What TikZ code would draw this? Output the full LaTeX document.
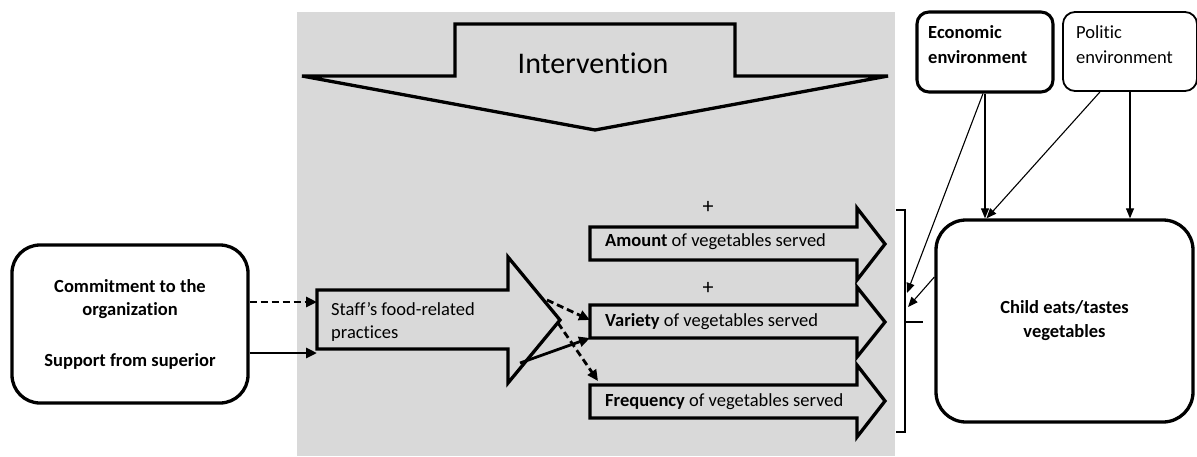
\documentclass[tikz,border=0pt]{standalone}
\usepackage{fontspec}
\setmainfont{Carlito}[RawFeature={-liga}]

\usetikzlibrary{arrows.meta}

\begin{document}
\begin{tikzpicture}[x=1pt,y=-1pt,
  txt/.style={font=\fontsize{18.5}{24}\selectfont, inner sep=0pt},
  bigbox/.style={draw, line width=3.3pt, rounded corners=28pt, fill=white},
  envbox/.style={draw, rounded corners=12pt, fill=white},
  blockarrow/.style={draw, line width=3.3pt, line join=miter, miter limit=20},
  link/.style={line width=2.8pt, -{Triangle[length=11pt,width=10pt]}},
  dashlink/.style={link, dash pattern=on 7pt off 4pt},
  thinlink/.style={line width=1.1pt, -{Triangle[length=10pt,width=8pt]}},
  plus/.style={font=\fontsize{22}{24}\selectfont, inner sep=0pt}
]
\useasboundingbox (0,0) rectangle (1197,456);

% shaded intervention area
\fill[black!15] (297,12) rectangle (895,456);

% intervention block arrow pointing down
\draw[blockarrow, miter limit=3] (302,76) -- (455,76) -- (455,24) -- (735,24) -- (735,76)
  -- (888,76) -- (595,130) -- cycle;
\node[txt, anchor=base, font=\fontsize{30}{34}\selectfont] (interv) at (593,73) {Intervention};

% staff practices block arrow
\draw[blockarrow] (317,290) -- (508,290) -- (508,257) -- (560,320) -- (508,383)
  -- (508,349) -- (317,349) -- cycle;
\node[txt, anchor=base west, align=left] (staff) at (331,315) {Staff’s food-related};
\node[txt, anchor=base west] (staff2) at (331,338) {practices};
\coordinate (staffin1) at (317,302);
\coordinate (staffin2) at (317,353);

% outcome block arrows
\draw[blockarrow] (590,227) -- (857,227) -- (857,208) -- (885,244) -- (857,280)
  -- (857,260) -- (590,260) -- cycle;
\node[txt, anchor=base west] (amount) at (605,246) {\textbf{Amount} of vegetables served};

\draw[blockarrow] (590,305) -- (857,305) -- (857,287) -- (885,322) -- (857,357)
  -- (857,338) -- (590,338) -- cycle;
\node[txt, anchor=base west] (variety) at (605,326) {\textbf{Variety} of vegetables served};

\draw[blockarrow] (590,385) -- (857,385) -- (857,365) -- (885,401) -- (857,437)
  -- (857,418) -- (590,418) -- cycle;
\node[txt, anchor=base west] (frequency) at (605,406) {\textbf{Frequency} of vegetables served};

\node[plus] (plus1) at (708,207) {+};
\node[plus] (plus2) at (708,288) {+};

% organisational factors
\node[bigbox, minimum width=236pt, minimum height=158pt, txt,
      font=\fontsize{18.5}{23}\selectfont\bfseries, align=center] (org) at (130,324)
  {Commitment to the\\organization\\[28pt]Support from superior};

% outcome box
\node[bigbox, rounded corners=30pt, minimum width=257pt, minimum height=202pt, txt,
      font=\fontsize{18.5}{24}\selectfont\bfseries, align=center] (child) at (1064.5,321)
  {Child eats/tastes\\vegetables};

% environment boxes
\node[envbox, line width=3.1pt, minimum width=136pt, minimum height=80pt] (econ) at (985,52) {};
\node[txt, anchor=base west, font=\fontsize{18.5}{24}\selectfont\bfseries] (econt1) at (928,38) {Economic};
\node[txt, anchor=base west, font=\fontsize{18.5}{24}\selectfont\bfseries] (econt2) at (928,63) {environment};

\node[envbox, line width=1.8pt, minimum width=134pt, minimum height=79pt] (pol) at (1130,51.5) {};
\node[txt, anchor=base west] (polt1) at (1076,38) {Politic};
\node[txt, anchor=base west] (polt2) at (1076,63) {environment};

% bracket grouping the three outcomes
\draw[line width=1.6pt] (896,210) -- (905,210) -- (905,432) -- (896,432);
\draw[line width=1.6pt] (905,322) -- (923,322);
\coordinate (brk1) at (907,293);
\coordinate (brk2) at (908,307);

% links from organisational factors to practices
\draw[dashlink] (org.east |- staffin1) -- (staffin1);
\draw[link] (org.east |- staffin2) -- (staffin2);

% links from practices to outcomes
\coordinate (tipA) at (547,300);
\coordinate (tipB) at (558,323);
\coordinate (tipC) at (520,363);
\coordinate (varA) at (590,320);
\coordinate (varB) at (590,338);
\coordinate (freqA) at (598,381);
\draw[dashlink] (tipA) -- (varA);
\draw[dashlink] (tipB) -- (freqA);
\draw[link] (tipC) -- (varB);

% environment influences
\draw[thinlink] (econ.south) -- (econ.south |- child.north);
\draw[thinlink] (pol.south) -- (pol.south |- child.north);
\draw[thinlink] ([xshift=-30pt]pol.south) -- ([xshift=-78pt]child.north);
\draw[thinlink] ([xshift=-2pt]econ.south) -- (brk1);
\draw[thinlink] (child.west |- 0,277) -- (brk2);
\end{tikzpicture}
\end{document}
